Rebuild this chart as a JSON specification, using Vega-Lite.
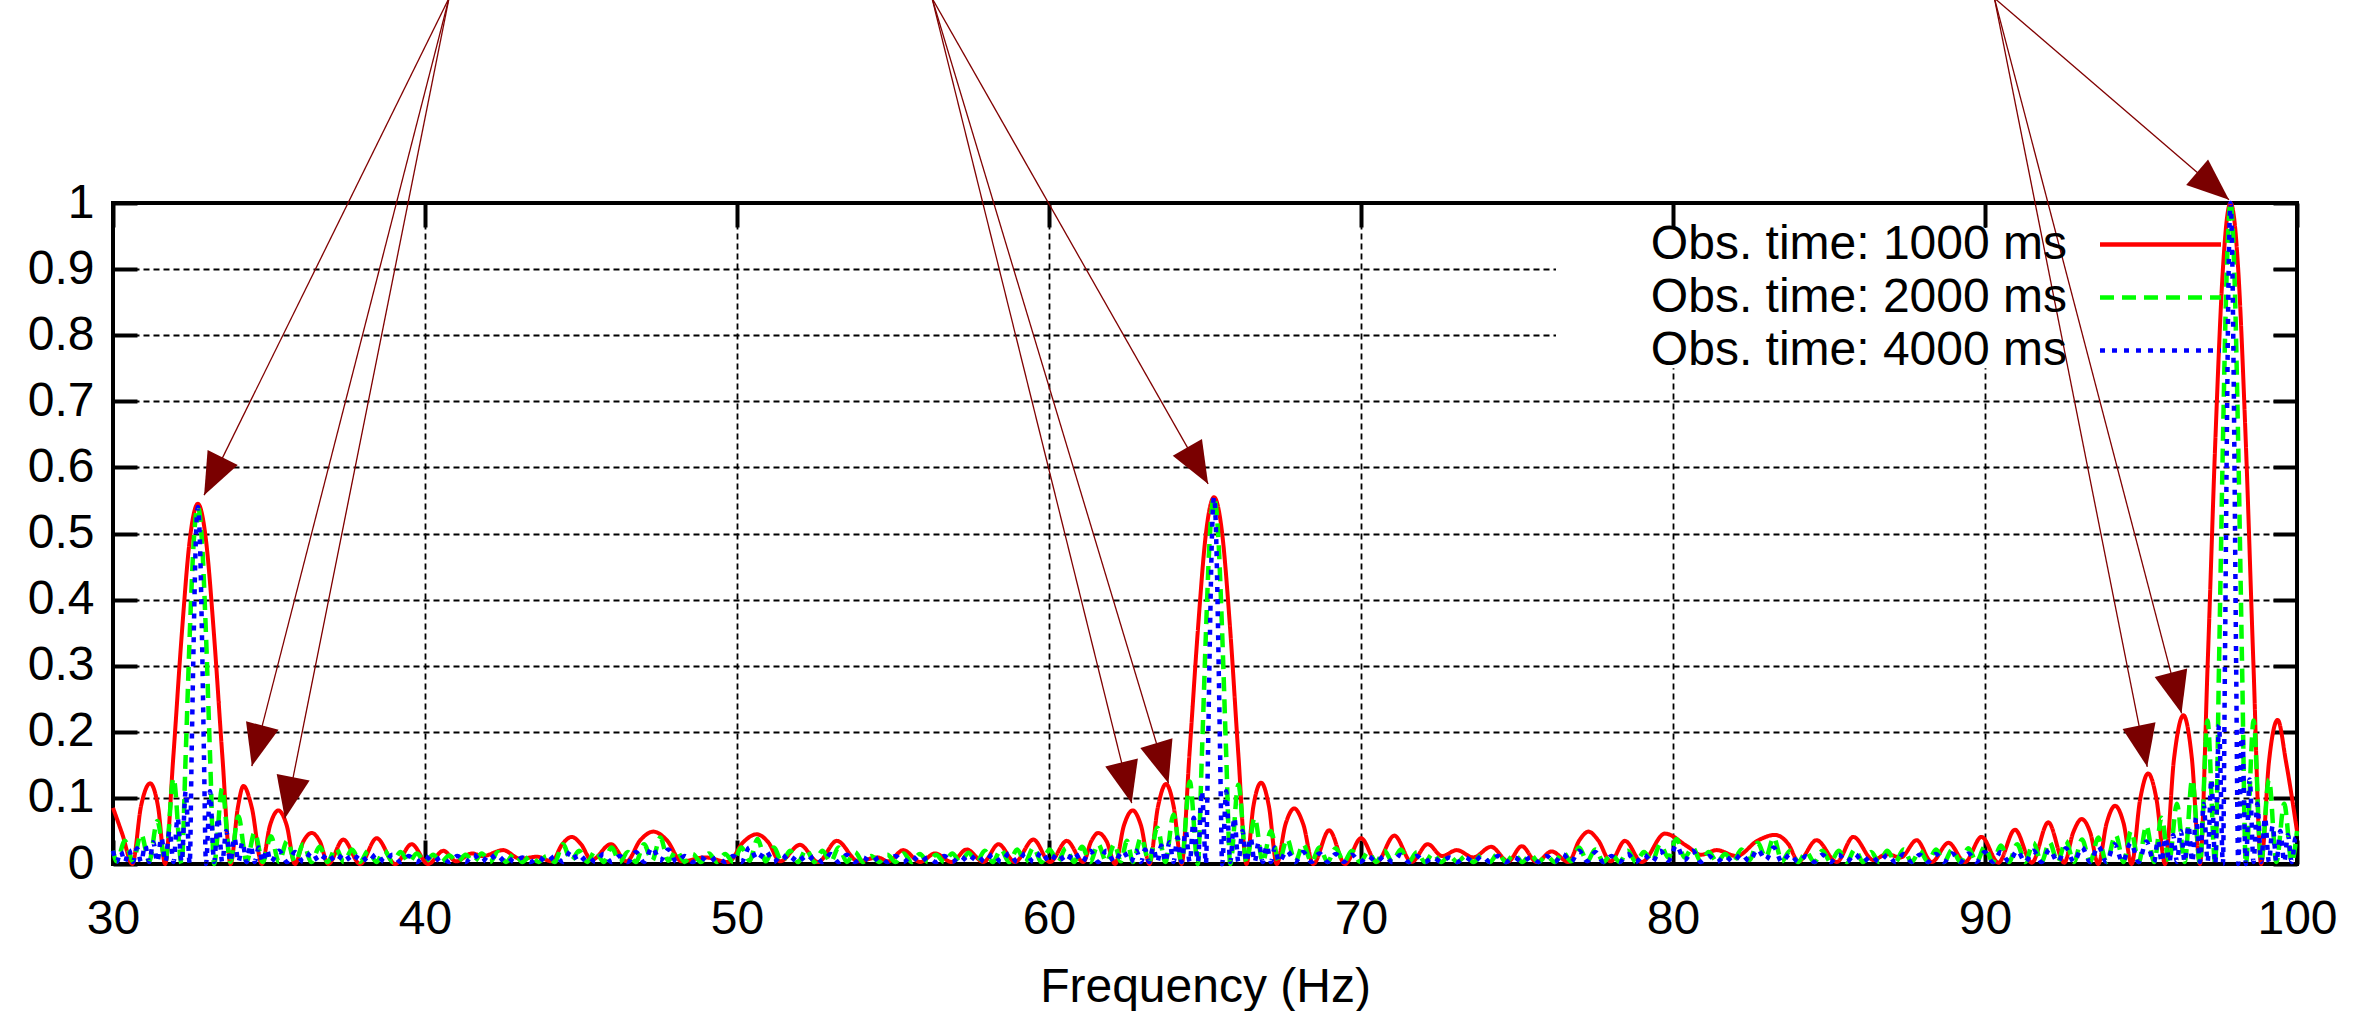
{
"$schema":"https://vega.github.io/schema/vega-lite/v6.json",
"width":2184,"height":661,
"autosize":{"type":"none"},
"padding":{"left":113,"top":203,"right":72,"bottom":147},
"background":"white",
"config":{
"view":{"stroke":"black","strokeWidth":4},
"axis":{"labelFont":"Liberation Sans","labelFontSize":48,"labelColor":"black","titleFont":"Liberation Sans","titleFontSize":48,"titleFontWeight":"normal","titleColor":"black","domain":false,"tickColor":"black","tickWidth":4,"tickSize":-24,"labelFlush":false,"gridColor":"black","gridDash":[6,4],"gridWidth":1.8,"gridOpacity":1},
"legend":{"labelFont":"Liberation Sans","labelFontSize":48,"labelColor":"black","labelAlign":"right","labelOffset":-120,"labelLimit":1000,"symbolType":"M-2.5,0H2.5","symbolSize":2343,"symbolStrokeWidth":4.5,"rowPadding":2,"padding":0}
},
"datasets":{
"red":[{"f":30,"v":0.085},{"f":30.3,"v":0.045},{"f":30.62,"v":0},{"f":30.9,"v":0.088},{"f":31.19,"v":0.122},{"f":31.45,"v":0.085},{"f":31.67,"v":0},{"f":31.93,"v":0.16},{"f":32.2,"v":0.345},{"f":32.46,"v":0.49},{"f":32.59,"v":0.53},{"f":32.72,"v":0.545},{"f":32.85,"v":0.53},{"f":32.98,"v":0.49},{"f":33.24,"v":0.345},{"f":33.51,"v":0.16},{"f":33.77,"v":0},{"f":34,"v":0.085},{"f":34.18,"v":0.118},{"f":34.45,"v":0.085},{"f":34.77,"v":0},{"f":35.03,"v":0.058},{"f":35.3,"v":0.081},{"f":35.57,"v":0.058},{"f":35.83,"v":0},{"f":36.1,"v":0.034},{"f":36.37,"v":0.047},{"f":36.63,"v":0.034},{"f":36.9,"v":0},{"f":37.38,"v":0.037},{"f":37.92,"v":0},{"f":38.45,"v":0.039},{"f":39.05,"v":0},{"f":39.57,"v":0.03},{"f":40.1,"v":0},{"f":40.59,"v":0.02},{"f":41,"v":0.004},{"f":41.5,"v":0.016},{"f":41.85,"v":0.012},{"f":42.5,"v":0.021},{"f":43.05,"v":0.008},{"f":43.6,"v":0.011},{"f":44.06,"v":0.004},{"f":44.4,"v":0.03},{"f":44.7,"v":0.041},{"f":45,"v":0.03},{"f":45.34,"v":0.006},{"f":45.96,"v":0.03},{"f":46.46,"v":0.004},{"f":46.9,"v":0.036},{"f":47.32,"v":0.049},{"f":47.75,"v":0.036},{"f":48.23,"v":0.004},{"f":48.97,"v":0.01},{"f":49.72,"v":0.003},{"f":50.2,"v":0.033},{"f":50.63,"v":0.045},{"f":51,"v":0.033},{"f":51.38,"v":0.004},{"f":52.02,"v":0.029},{"f":52.6,"v":0.003},{"f":53.2,"v":0.035},{"f":53.89,"v":0.004},{"f":54.5,"v":0.01},{"f":54.85,"v":0.004},{"f":55.33,"v":0.021},{"f":55.87,"v":0.003},{"f":56.35,"v":0.016},{"f":56.88,"v":0.003},{"f":57.36,"v":0.022},{"f":57.9,"v":0.003},{"f":58.38,"v":0.03},{"f":58.91,"v":0.003},{"f":59.5,"v":0.037},{"f":60.03,"v":0.003},{"f":60.57,"v":0.035},{"f":61.1,"v":0.003},{"f":61.35,"v":0.034},{"f":61.58,"v":0.047},{"f":61.85,"v":0.034},{"f":62.12,"v":0},{"f":62.4,"v":0.058},{"f":62.68,"v":0.081},{"f":62.95,"v":0.058},{"f":63.22,"v":0},{"f":63.49,"v":0.086},{"f":63.75,"v":0.121},{"f":64,"v":0.086},{"f":64.25,"v":0},{"f":64.5,"v":0.165},{"f":64.77,"v":0.353},{"f":65.03,"v":0.5},{"f":65.16,"v":0.54},{"f":65.29,"v":0.555},{"f":65.42,"v":0.54},{"f":65.55,"v":0.5},{"f":65.81,"v":0.353},{"f":66.07,"v":0.165},{"f":66.33,"v":0},{"f":66.55,"v":0.087},{"f":66.8,"v":0.123},{"f":67.05,"v":0.087},{"f":67.3,"v":0},{"f":67.58,"v":0.06},{"f":67.86,"v":0.084},{"f":68.15,"v":0.06},{"f":68.47,"v":0},{"f":68.98,"v":0.051},{"f":69.49,"v":0},{"f":70,"v":0.039},{"f":70.5,"v":0.003},{"f":71.07,"v":0.043},{"f":71.62,"v":0.003},{"f":72.14,"v":0.03},{"f":72.6,"v":0.012},{"f":73.07,"v":0.021},{"f":73.6,"v":0.01},{"f":74.17,"v":0.026},{"f":74.72,"v":0.004},{"f":75.15,"v":0.027},{"f":75.63,"v":0.003},{"f":76.11,"v":0.019},{"f":76.65,"v":0.003},{"f":77,"v":0.036},{"f":77.29,"v":0.049},{"f":77.6,"v":0.036},{"f":78,"v":0.004},{"f":78.46,"v":0.035},{"f":79,"v":0.003},{"f":79.74,"v":0.046},{"f":80.45,"v":0.027},{"f":80.9,"v":0.014},{"f":81.4,"v":0.021},{"f":82.04,"v":0.012},{"f":82.7,"v":0.035},{"f":83.27,"v":0.044},{"f":83.7,"v":0.03},{"f":84.02,"v":0.004},{"f":84.6,"v":0.036},{"f":85.25,"v":0.003},{"f":85.78,"v":0.041},{"f":86.42,"v":0.006},{"f":86.85,"v":0.015},{"f":87.3,"v":0.01},{"f":87.81,"v":0.036},{"f":88.29,"v":0.003},{"f":88.83,"v":0.032},{"f":89.36,"v":0.003},{"f":89.89,"v":0.041},{"f":90.43,"v":0.002},{"f":90.96,"v":0.052},{"f":91.5,"v":0.002},{"f":92.03,"v":0.063},{"f":92.54,"v":0.002},{"f":92.83,"v":0.048},{"f":93.1,"v":0.068},{"f":93.37,"v":0.048},{"f":93.63,"v":0},{"f":93.9,"v":0.062},{"f":94.17,"v":0.088},{"f":94.44,"v":0.062},{"f":94.7,"v":0},{"f":94.97,"v":0.097},{"f":95.23,"v":0.137},{"f":95.5,"v":0.097},{"f":95.77,"v":0},{"f":96.06,"v":0.16},{"f":96.36,"v":0.225},{"f":96.63,"v":0.16},{"f":96.89,"v":0},{"f":97.135,"v":0.3},{"f":97.38,"v":0.637},{"f":97.625,"v":0.9},{"f":97.75,"v":0.975},{"f":97.87,"v":1},{"f":97.99,"v":0.975},{"f":98.115,"v":0.9},{"f":98.36,"v":0.637},{"f":98.605,"v":0.3},{"f":98.85,"v":0},{"f":99.1,"v":0.154},{"f":99.38,"v":0.218},{"f":99.65,"v":0.154},{"f":100,"v":0.05}],
"green":[{"f":30,"v":0.02},{"f":30.12,"v":0.004},{"f":30.38,"v":0.035},{"f":30.64,"v":0.004},{"f":30.9,"v":0.045},{"f":31.16,"v":0.004},{"f":31.42,"v":0.065},{"f":31.68,"v":0.004},{"f":31.94,"v":0.13},{"f":32.2,"v":0},{"f":32.33,"v":0.165},{"f":32.46,"v":0.347},{"f":32.59,"v":0.49},{"f":32.72,"v":0.54},{"f":32.85,"v":0.49},{"f":32.98,"v":0.347},{"f":33.11,"v":0.165},{"f":33.24,"v":0},{"f":33.5,"v":0.115},{"f":33.76,"v":0.003},{"f":34.02,"v":0.072},{"f":34.28,"v":0.003},{"f":34.54,"v":0.048},{"f":34.8,"v":0.003},{"f":35.06,"v":0.042},{"f":35.32,"v":0.003},{"f":35.58,"v":0.035},{"f":35.84,"v":0.003},{"f":36.1,"v":0.03},{"f":36.36,"v":0.003},{"f":36.62,"v":0.026},{"f":36.88,"v":0.003},{"f":37.14,"v":0.024},{"f":37.4,"v":0.003},{"f":37.66,"v":0.022},{"f":37.92,"v":0.003},{"f":38.18,"v":0.02},{"f":38.44,"v":0.003},{"f":38.7,"v":0.02},{"f":38.96,"v":0.003},{"f":39.22,"v":0.018},{"f":39.48,"v":0.003},{"f":39.74,"v":0.016},{"f":40,"v":0.003},{"f":40.26,"v":0.014},{"f":40.52,"v":0.003},{"f":40.78,"v":0.013},{"f":41.04,"v":0.003},{"f":41.3,"v":0.014},{"f":41.56,"v":0.003},{"f":41.82,"v":0.016},{"f":42.08,"v":0.003},{"f":42.34,"v":0.018},{"f":42.6,"v":0.003},{"f":42.86,"v":0.016},{"f":43.12,"v":0.003},{"f":43.38,"v":0.012},{"f":43.64,"v":0.003},{"f":43.9,"v":0.012},{"f":44.16,"v":0.003},{"f":44.42,"v":0.03},{"f":44.68,"v":0.005},{"f":44.94,"v":0.02},{"f":45.2,"v":0.003},{"f":45.46,"v":0.02},{"f":45.72,"v":0.003},{"f":45.98,"v":0.025},{"f":46.24,"v":0.003},{"f":46.5,"v":0.018},{"f":46.76,"v":0.003},{"f":47.02,"v":0.03},{"f":47.28,"v":0.005},{"f":47.54,"v":0.04},{"f":47.8,"v":0.005},{"f":48.06,"v":0.02},{"f":48.32,"v":0.003},{"f":48.58,"v":0.015},{"f":48.84,"v":0.003},{"f":49.1,"v":0.016},{"f":49.36,"v":0.003},{"f":49.62,"v":0.015},{"f":49.88,"v":0.003},{"f":50.14,"v":0.025},{"f":50.4,"v":0.005},{"f":50.66,"v":0.038},{"f":50.92,"v":0.004},{"f":51.18,"v":0.025},{"f":51.44,"v":0.003},{"f":51.7,"v":0.02},{"f":51.96,"v":0.003},{"f":52.22,"v":0.022},{"f":52.48,"v":0.003},{"f":52.74,"v":0.02},{"f":53,"v":0.003},{"f":53.26,"v":0.025},{"f":53.52,"v":0.003},{"f":53.78,"v":0.018},{"f":54.04,"v":0.003},{"f":54.3,"v":0.012},{"f":54.56,"v":0.003},{"f":54.82,"v":0.014},{"f":55.08,"v":0.003},{"f":55.34,"v":0.016},{"f":55.6,"v":0.003},{"f":55.86,"v":0.015},{"f":56.12,"v":0.003},{"f":56.38,"v":0.014},{"f":56.64,"v":0.003},{"f":56.9,"v":0.016},{"f":57.16,"v":0.003},{"f":57.42,"v":0.017},{"f":57.68,"v":0.003},{"f":57.94,"v":0.02},{"f":58.2,"v":0.003},{"f":58.46,"v":0.022},{"f":58.72,"v":0.003},{"f":58.98,"v":0.022},{"f":59.24,"v":0.003},{"f":59.5,"v":0.025},{"f":59.76,"v":0.003},{"f":60.02,"v":0.022},{"f":60.28,"v":0.003},{"f":60.54,"v":0.024},{"f":60.8,"v":0.003},{"f":61.06,"v":0.026},{"f":61.32,"v":0.003},{"f":61.58,"v":0.03},{"f":61.84,"v":0.003},{"f":62.1,"v":0.03},{"f":62.3,"v":0.004},{"f":62.5,"v":0.035},{"f":62.69,"v":0.003},{"f":62.95,"v":0.04},{"f":63.21,"v":0.003},{"f":63.47,"v":0.055},{"f":63.73,"v":0.003},{"f":63.99,"v":0.075},{"f":64.25,"v":0.003},{"f":64.51,"v":0.125},{"f":64.77,"v":0},{"f":64.9,"v":0.165},{"f":65.03,"v":0.35},{"f":65.16,"v":0.5},{"f":65.29,"v":0.555},{"f":65.42,"v":0.5},{"f":65.55,"v":0.35},{"f":65.68,"v":0.165},{"f":65.81,"v":0},{"f":66.07,"v":0.12},{"f":66.33,"v":0.003},{"f":66.59,"v":0.07},{"f":66.85,"v":0.003},{"f":67.11,"v":0.05},{"f":67.37,"v":0.003},{"f":67.63,"v":0.038},{"f":67.89,"v":0.003},{"f":68.15,"v":0.03},{"f":68.41,"v":0.003},{"f":68.67,"v":0.025},{"f":68.93,"v":0.003},{"f":69.19,"v":0.024},{"f":69.45,"v":0.003},{"f":69.71,"v":0.02},{"f":69.97,"v":0.003},{"f":70.23,"v":0.018},{"f":70.49,"v":0.003},{"f":70.75,"v":0.02},{"f":71.01,"v":0.003},{"f":71.27,"v":0.022},{"f":71.53,"v":0.003},{"f":71.79,"v":0.018},{"f":72.05,"v":0.003},{"f":72.31,"v":0.016},{"f":72.57,"v":0.003},{"f":72.83,"v":0.012},{"f":73.09,"v":0.003},{"f":73.35,"v":0.012},{"f":73.61,"v":0.003},{"f":73.87,"v":0.014},{"f":74.13,"v":0.003},{"f":74.39,"v":0.016},{"f":74.65,"v":0.003},{"f":74.91,"v":0.015},{"f":75.17,"v":0.003},{"f":75.43,"v":0.014},{"f":75.69,"v":0.003},{"f":75.95,"v":0.012},{"f":76.21,"v":0.003},{"f":76.47,"v":0.018},{"f":76.73,"v":0.004},{"f":76.99,"v":0.025},{"f":77.25,"v":0.004},{"f":77.51,"v":0.022},{"f":77.77,"v":0.003},{"f":78.03,"v":0.015},{"f":78.29,"v":0.003},{"f":78.55,"v":0.02},{"f":78.81,"v":0.003},{"f":79.07,"v":0.018},{"f":79.33,"v":0.004},{"f":79.59,"v":0.03},{"f":79.85,"v":0.01},{"f":80.11,"v":0.038},{"f":80.37,"v":0.01},{"f":80.63,"v":0.025},{"f":80.89,"v":0.004},{"f":81.15,"v":0.018},{"f":81.41,"v":0.003},{"f":81.67,"v":0.015},{"f":81.93,"v":0.003},{"f":82.19,"v":0.022},{"f":82.45,"v":0.006},{"f":82.71,"v":0.032},{"f":82.97,"v":0.01},{"f":83.23,"v":0.04},{"f":83.49,"v":0.004},{"f":83.75,"v":0.02},{"f":84.01,"v":0.003},{"f":84.27,"v":0.018},{"f":84.53,"v":0.003},{"f":84.79,"v":0.02},{"f":85.05,"v":0.003},{"f":85.31,"v":0.02},{"f":85.57,"v":0.003},{"f":85.83,"v":0.022},{"f":86.09,"v":0.003},{"f":86.35,"v":0.018},{"f":86.61,"v":0.003},{"f":86.87,"v":0.02},{"f":87.13,"v":0.003},{"f":87.39,"v":0.022},{"f":87.65,"v":0.003},{"f":87.91,"v":0.02},{"f":88.17,"v":0.003},{"f":88.43,"v":0.022},{"f":88.69,"v":0.003},{"f":88.95,"v":0.022},{"f":89.21,"v":0.003},{"f":89.47,"v":0.024},{"f":89.73,"v":0.003},{"f":89.99,"v":0.026},{"f":90.25,"v":0.003},{"f":90.51,"v":0.028},{"f":90.77,"v":0.003},{"f":91.03,"v":0.03},{"f":91.29,"v":0.003},{"f":91.55,"v":0.032},{"f":91.81,"v":0.003},{"f":92.07,"v":0.033},{"f":92.33,"v":0.003},{"f":92.59,"v":0.035},{"f":92.85,"v":0.003},{"f":93.11,"v":0.037},{"f":93.37,"v":0.003},{"f":93.63,"v":0.04},{"f":93.89,"v":0.003},{"f":94.19,"v":0.044},{"f":94.44,"v":0.003},{"f":94.68,"v":0.05},{"f":94.93,"v":0.003},{"f":95.17,"v":0.058},{"f":95.42,"v":0.003},{"f":95.66,"v":0.07},{"f":95.9,"v":0.003},{"f":96.15,"v":0.091},{"f":96.4,"v":0.003},{"f":96.64,"v":0.128},{"f":96.89,"v":0},{"f":97.13,"v":0.217},{"f":97.38,"v":0},{"f":97.5,"v":0.3},{"f":97.625,"v":0.637},{"f":97.75,"v":0.9},{"f":97.87,"v":1},{"f":97.99,"v":0.9},{"f":98.115,"v":0.637},{"f":98.24,"v":0.3},{"f":98.36,"v":0},{"f":98.61,"v":0.217},{"f":98.85,"v":0.003},{"f":99.1,"v":0.128},{"f":99.34,"v":0.003},{"f":99.59,"v":0.091},{"f":99.83,"v":0.003},{"f":100,"v":0.05}],
"blue":[{"f":30,"v":0.02},{"f":30.12,"v":0.003},{"f":30.25,"v":0.019},{"f":30.38,"v":0.003},{"f":30.51,"v":0.021},{"f":30.64,"v":0.003},{"f":30.77,"v":0.024},{"f":30.9,"v":0.003},{"f":31.03,"v":0.028},{"f":31.16,"v":0.003},{"f":31.29,"v":0.033},{"f":31.42,"v":0.003},{"f":31.55,"v":0.04},{"f":31.68,"v":0.003},{"f":31.81,"v":0.05},{"f":31.94,"v":0.003},{"f":32.07,"v":0.07},{"f":32.2,"v":0.003},{"f":32.33,"v":0.11},{"f":32.46,"v":0},{"f":32.52,"v":0.165},{"f":32.59,"v":0.35},{"f":32.655,"v":0.49},{"f":32.72,"v":0.54},{"f":32.785,"v":0.49},{"f":32.85,"v":0.35},{"f":32.915,"v":0.165},{"f":32.98,"v":0},{"f":33.11,"v":0.11},{"f":33.24,"v":0.003},{"f":33.37,"v":0.07},{"f":33.5,"v":0.003},{"f":33.63,"v":0.05},{"f":33.76,"v":0.003},{"f":33.89,"v":0.04},{"f":34.02,"v":0.003},{"f":34.15,"v":0.033},{"f":34.28,"v":0.003},{"f":34.41,"v":0.028},{"f":34.54,"v":0.003},{"f":34.67,"v":0.025},{"f":34.8,"v":0.003},{"f":34.93,"v":0.022},{"f":35.06,"v":0.003},{"f":35.32,"v":0.02},{"f":35.58,"v":0.003},{"f":35.84,"v":0.018},{"f":36.1,"v":0.003},{"f":36.36,"v":0.018},{"f":36.62,"v":0.003},{"f":36.88,"v":0.016},{"f":37.14,"v":0.003},{"f":37.4,"v":0.016},{"f":37.66,"v":0.003},{"f":37.92,"v":0.015},{"f":38.18,"v":0.003},{"f":38.44,"v":0.015},{"f":38.7,"v":0.003},{"f":38.96,"v":0.014},{"f":39.22,"v":0.003},{"f":39.48,"v":0.012},{"f":39.74,"v":0.003},{"f":40,"v":0.012},{"f":40.26,"v":0.003},{"f":40.52,"v":0.01},{"f":40.78,"v":0.003},{"f":41.04,"v":0.012},{"f":41.3,"v":0.003},{"f":41.56,"v":0.014},{"f":41.82,"v":0.003},{"f":42.08,"v":0.015},{"f":42.34,"v":0.003},{"f":42.6,"v":0.012},{"f":42.86,"v":0.003},{"f":43.12,"v":0.01},{"f":43.38,"v":0.003},{"f":43.64,"v":0.01},{"f":43.9,"v":0.003},{"f":44.16,"v":0.012},{"f":44.42,"v":0.003},{"f":44.68,"v":0.02},{"f":44.94,"v":0.003},{"f":45.2,"v":0.012},{"f":45.46,"v":0.003},{"f":45.72,"v":0.015},{"f":45.98,"v":0.003},{"f":46.24,"v":0.012},{"f":46.5,"v":0.003},{"f":46.76,"v":0.018},{"f":47.02,"v":0.003},{"f":47.28,"v":0.025},{"f":47.54,"v":0.005},{"f":47.8,"v":0.022},{"f":48.06,"v":0.003},{"f":48.32,"v":0.012},{"f":48.58,"v":0.003},{"f":48.84,"v":0.01},{"f":49.1,"v":0.003},{"f":49.36,"v":0.01},{"f":49.62,"v":0.003},{"f":49.88,"v":0.012},{"f":50.14,"v":0.003},{"f":50.4,"v":0.025},{"f":50.66,"v":0.006},{"f":50.92,"v":0.02},{"f":51.18,"v":0.003},{"f":51.44,"v":0.014},{"f":51.7,"v":0.003},{"f":51.96,"v":0.014},{"f":52.22,"v":0.003},{"f":52.48,"v":0.012},{"f":52.74,"v":0.003},{"f":53,"v":0.015},{"f":53.26,"v":0.003},{"f":53.52,"v":0.014},{"f":53.78,"v":0.003},{"f":54.04,"v":0.01},{"f":54.3,"v":0.003},{"f":54.56,"v":0.01},{"f":54.82,"v":0.003},{"f":55.08,"v":0.012},{"f":55.34,"v":0.003},{"f":55.6,"v":0.012},{"f":55.86,"v":0.003},{"f":56.12,"v":0.01},{"f":56.38,"v":0.003},{"f":56.64,"v":0.012},{"f":56.9,"v":0.003},{"f":57.16,"v":0.012},{"f":57.42,"v":0.003},{"f":57.68,"v":0.014},{"f":57.94,"v":0.003},{"f":58.2,"v":0.015},{"f":58.46,"v":0.003},{"f":58.72,"v":0.016},{"f":58.98,"v":0.003},{"f":59.24,"v":0.016},{"f":59.5,"v":0.003},{"f":59.76,"v":0.018},{"f":60.02,"v":0.003},{"f":60.28,"v":0.016},{"f":60.54,"v":0.003},{"f":60.8,"v":0.018},{"f":61.06,"v":0.003},{"f":61.32,"v":0.02},{"f":61.58,"v":0.003},{"f":61.84,"v":0.02},{"f":62.1,"v":0.003},{"f":62.36,"v":0.02},{"f":62.62,"v":0.003},{"f":62.8,"v":0.02},{"f":62.95,"v":0.003},{"f":63.08,"v":0.022},{"f":63.21,"v":0.003},{"f":63.34,"v":0.025},{"f":63.47,"v":0.003},{"f":63.6,"v":0.028},{"f":63.73,"v":0.003},{"f":63.86,"v":0.033},{"f":63.99,"v":0.003},{"f":64.12,"v":0.04},{"f":64.25,"v":0.003},{"f":64.38,"v":0.05},{"f":64.51,"v":0.003},{"f":64.64,"v":0.07},{"f":64.77,"v":0.003},{"f":64.9,"v":0.11},{"f":65.03,"v":0},{"f":65.095,"v":0.165},{"f":65.16,"v":0.35},{"f":65.225,"v":0.5},{"f":65.29,"v":0.555},{"f":65.355,"v":0.5},{"f":65.42,"v":0.35},{"f":65.485,"v":0.165},{"f":65.55,"v":0},{"f":65.68,"v":0.11},{"f":65.81,"v":0.003},{"f":65.94,"v":0.07},{"f":66.07,"v":0.003},{"f":66.2,"v":0.05},{"f":66.33,"v":0.003},{"f":66.46,"v":0.04},{"f":66.59,"v":0.003},{"f":66.72,"v":0.033},{"f":66.85,"v":0.003},{"f":66.98,"v":0.028},{"f":67.11,"v":0.003},{"f":67.24,"v":0.025},{"f":67.37,"v":0.003},{"f":67.63,"v":0.02},{"f":67.89,"v":0.003},{"f":68.15,"v":0.018},{"f":68.41,"v":0.003},{"f":68.67,"v":0.016},{"f":68.93,"v":0.003},{"f":69.19,"v":0.015},{"f":69.45,"v":0.003},{"f":69.71,"v":0.014},{"f":69.97,"v":0.003},{"f":70.23,"v":0.012},{"f":70.49,"v":0.003},{"f":70.75,"v":0.012},{"f":71.01,"v":0.003},{"f":71.27,"v":0.014},{"f":71.53,"v":0.003},{"f":71.79,"v":0.012},{"f":72.05,"v":0.003},{"f":72.31,"v":0.01},{"f":72.57,"v":0.003},{"f":72.83,"v":0.01},{"f":73.09,"v":0.003},{"f":73.35,"v":0.01},{"f":73.61,"v":0.003},{"f":73.87,"v":0.012},{"f":74.13,"v":0.003},{"f":74.39,"v":0.012},{"f":74.65,"v":0.003},{"f":74.91,"v":0.01},{"f":75.17,"v":0.003},{"f":75.43,"v":0.01},{"f":75.69,"v":0.003},{"f":75.95,"v":0.012},{"f":76.21,"v":0.003},{"f":76.47,"v":0.015},{"f":76.73,"v":0.003},{"f":76.99,"v":0.02},{"f":77.25,"v":0.004},{"f":77.51,"v":0.018},{"f":77.77,"v":0.003},{"f":78.03,"v":0.012},{"f":78.29,"v":0.003},{"f":78.55,"v":0.015},{"f":78.81,"v":0.003},{"f":79.07,"v":0.014},{"f":79.33,"v":0.003},{"f":79.59,"v":0.02},{"f":79.85,"v":0.005},{"f":80.11,"v":0.028},{"f":80.37,"v":0.006},{"f":80.63,"v":0.02},{"f":80.89,"v":0.003},{"f":81.15,"v":0.012},{"f":81.41,"v":0.003},{"f":81.67,"v":0.012},{"f":81.93,"v":0.003},{"f":82.19,"v":0.015},{"f":82.45,"v":0.004},{"f":82.71,"v":0.022},{"f":82.97,"v":0.006},{"f":83.23,"v":0.025},{"f":83.49,"v":0.003},{"f":83.75,"v":0.015},{"f":84.01,"v":0.003},{"f":84.27,"v":0.012},{"f":84.53,"v":0.003},{"f":84.79,"v":0.014},{"f":85.05,"v":0.003},{"f":85.31,"v":0.014},{"f":85.57,"v":0.003},{"f":85.83,"v":0.015},{"f":86.09,"v":0.003},{"f":86.35,"v":0.012},{"f":86.61,"v":0.003},{"f":86.87,"v":0.014},{"f":87.13,"v":0.003},{"f":87.39,"v":0.015},{"f":87.65,"v":0.003},{"f":87.91,"v":0.014},{"f":88.17,"v":0.003},{"f":88.43,"v":0.015},{"f":88.69,"v":0.003},{"f":88.95,"v":0.016},{"f":89.21,"v":0.003},{"f":89.47,"v":0.016},{"f":89.73,"v":0.003},{"f":89.99,"v":0.018},{"f":90.25,"v":0.003},{"f":90.51,"v":0.018},{"f":90.77,"v":0.003},{"f":91.03,"v":0.02},{"f":91.29,"v":0.003},{"f":91.55,"v":0.02},{"f":91.81,"v":0.003},{"f":92.07,"v":0.022},{"f":92.33,"v":0.003},{"f":92.59,"v":0.024},{"f":92.85,"v":0.003},{"f":93.11,"v":0.025},{"f":93.37,"v":0.003},{"f":93.63,"v":0.027},{"f":93.89,"v":0.003},{"f":94.15,"v":0.03},{"f":94.41,"v":0.003},{"f":94.67,"v":0.032},{"f":94.93,"v":0.003},{"f":95.17,"v":0.034},{"f":95.42,"v":0.003},{"f":95.54,"v":0.036},{"f":95.665,"v":0.003},{"f":95.785,"v":0.04},{"f":95.91,"v":0.003},{"f":96.03,"v":0.044},{"f":96.155,"v":0.003},{"f":96.275,"v":0.05},{"f":96.4,"v":0.003},{"f":96.52,"v":0.058},{"f":96.645,"v":0.003},{"f":96.765,"v":0.07},{"f":96.89,"v":0.003},{"f":97.01,"v":0.091},{"f":97.135,"v":0.003},{"f":97.255,"v":0.128},{"f":97.38,"v":0},{"f":97.5,"v":0.21},{"f":97.625,"v":0},{"f":97.69,"v":0.3},{"f":97.75,"v":0.637},{"f":97.81,"v":0.9},{"f":97.87,"v":1},{"f":97.93,"v":0.9},{"f":97.99,"v":0.637},{"f":98.05,"v":0.3},{"f":98.115,"v":0},{"f":98.24,"v":0.21},{"f":98.36,"v":0},{"f":98.485,"v":0.128},{"f":98.605,"v":0.003},{"f":98.73,"v":0.091},{"f":98.85,"v":0.003},{"f":98.975,"v":0.07},{"f":99.1,"v":0.003},{"f":99.22,"v":0.058},{"f":99.34,"v":0.003},{"f":99.465,"v":0.05},{"f":99.59,"v":0.003},{"f":99.71,"v":0.044},{"f":99.83,"v":0.003},{"f":99.955,"v":0.04},{"f":100,"v":0.03}],
"arrows":[{"x1":40.77,"y1":1.31,"x2":32.92,"y2":0.558},{"x1":40.77,"y1":1.31,"x2":34.45,"y2":0.148},{"x1":40.77,"y1":1.31,"x2":35.51,"y2":0.069},{"x1":56.25,"y1":1.31,"x2":65.1,"y2":0.575},{"x1":56.25,"y1":1.31,"x2":62.65,"y2":0.092},{"x1":56.25,"y1":1.31,"x2":63.83,"y2":0.122},{"x1":90.3,"y1":1.31,"x2":97.82,"y2":1.005},{"x1":90.3,"y1":1.31,"x2":95.2,"y2":0.147},{"x1":90.3,"y1":1.31,"x2":96.3,"y2":0.228}]
},
"layer":[
{"data":{"values":[{}]},
 "mark":{"type":"rect","fill":"white","strokeWidth":0},
 "encoding":{
  "x":{"datum":76.25,"type":"quantitative","scale":{"domain":[30,100],"nice":false,"zero":false},"axis":{"orient":"top","values":[30,40,50,60,70,80,90,100],"labels":false,"grid":false,"title":null}},
  "x2":{"datum":99.2},
  "y":{"datum":0.75,"type":"quantitative","scale":{"domain":[0,1],"nice":false},"axis":{"orient":"right","values":[0,0.1,0.2,0.3,0.4,0.5,0.6,0.7,0.8,0.9,1],"labels":false,"grid":false,"title":null}},
  "y2":{"datum":0.962}}},
{"data":{"name":"red"},
 "transform":[{"calculate":"'Obs. time: 1000 ms'","as":"s"}],
 "mark":{"type":"line","interpolate":"monotone","strokeWidth":4},
 "encoding":{
  "x":{"field":"f","type":"quantitative","scale":{"domain":[30,100],"nice":false,"zero":false},"axis":{"orient":"bottom","values":[30,40,50,60,70,80,90,100],"format":"d","title":"Frequency (Hz)","grid":true,"labelPadding":55,"titlePadding":20}},
  "y":{"field":"v","type":"quantitative","scale":{"domain":[0,1],"nice":false},"axis":{"orient":"left","values":[0,0.1,0.2,0.3,0.4,0.5,0.6,0.7,0.8,0.9,1],"format":"~g","title":null,"grid":true,"labelPadding":43}},
  "color":{"field":"s","type":"nominal","scale":{"domain":["Obs. time: 1000 ms","Obs. time: 2000 ms","Obs. time: 4000 ms"],"range":["#ff0000","#00ff00","#0000ff"]},"legend":{"title":null,"orient":"none","legendX":2021,"legendY":15}},
  "strokeDash":{"field":"s","type":"nominal","scale":{"domain":["Obs. time: 1000 ms","Obs. time: 2000 ms","Obs. time: 4000 ms"],"range":[[1,0],[14,8],[5,7]]},"legend":{"title":null,"orient":"none","legendX":2021,"legendY":15}}}},
{"data":{"name":"green"},
 "transform":[{"calculate":"'Obs. time: 2000 ms'","as":"s"}],
 "mark":{"type":"line","interpolate":"monotone","strokeWidth":4.5},
 "encoding":{
  "x":{"field":"f","type":"quantitative","axis":null},
  "y":{"field":"v","type":"quantitative","axis":null},
  "color":{"field":"s","type":"nominal"},
  "strokeDash":{"field":"s","type":"nominal"}}},
{"data":{"name":"blue"},
 "transform":[{"calculate":"'Obs. time: 4000 ms'","as":"s"}],
 "mark":{"type":"line","interpolate":"monotone","strokeWidth":4.5},
 "encoding":{
  "x":{"field":"f","type":"quantitative","axis":null},
  "y":{"field":"v","type":"quantitative","axis":null},
  "color":{"field":"s","type":"nominal"},
  "strokeDash":{"field":"s","type":"nominal"}}},
{"data":{"name":"arrows"},
 "mark":{"type":"rule","color":"#800000","strokeWidth":1.3},
 "encoding":{
  "x":{"field":"x1","type":"quantitative","axis":null},
  "x2":{"field":"x2"},
  "y":{"field":"y1","type":"quantitative","axis":null},
  "y2":{"field":"y2"}}},
{"data":{"name":"arrows"},
 "transform":[{"calculate":"atan2((datum.x2-datum.x1)*2184/70, -(datum.y1-datum.y2)*661)*180/PI","as":"ang"}],
 "mark":{"type":"point","shape":"M0,0L-0.8,2L0.8,2Z","filled":true,"size":1764,"color":"#7a0000","opacity":1,"strokeWidth":0},
 "encoding":{
  "x":{"field":"x2","type":"quantitative","axis":null},
  "y":{"field":"y2","type":"quantitative","axis":null},
  "angle":{"field":"ang","type":"quantitative","scale":null}}}
],
"resolve":{"axis":{"x":"independent","y":"independent"}}
}
